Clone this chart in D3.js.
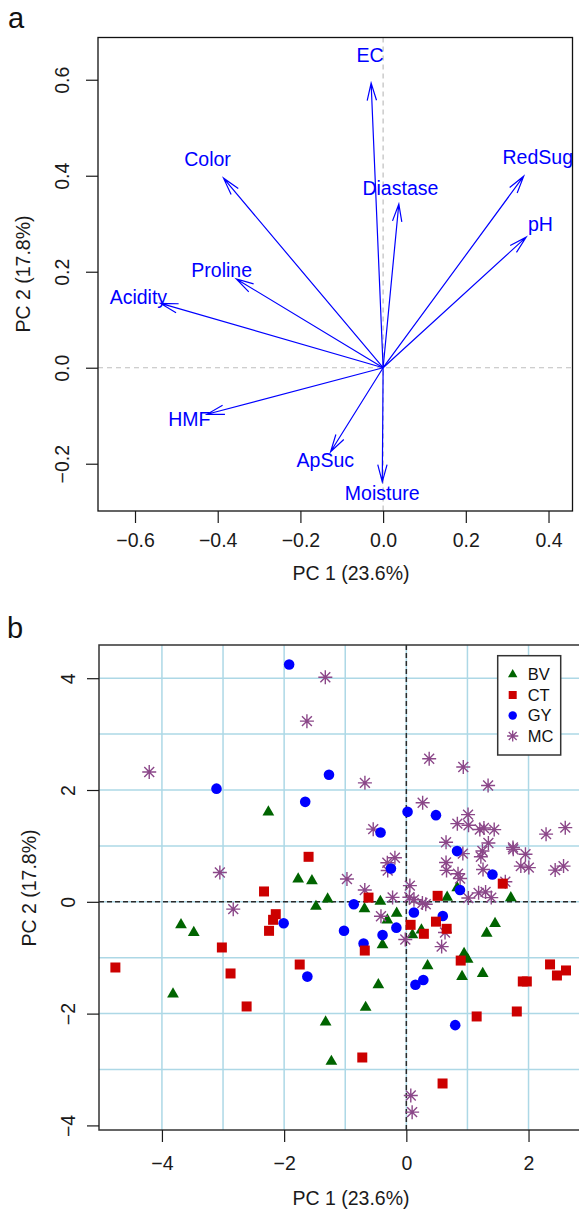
<!DOCTYPE html>
<html>
<head>
<meta charset="utf-8">
<script src="https://cdn.jsdelivr.net/npm/d3@7"></script>
<style>
  body { margin: 0; background: #fff; }
  svg { display: block; font-family: "Liberation Sans", Arial, Helvetica, sans-serif; }
</style>
</head>
<body>
<div id="chart"></div>
<script>
// ---- panel a: variable loadings ----
const loadingNames = ["EC", "Color", "Diastase", "RedSug", "pH", "Proline", "Acidity", "HMF", "ApSuc", "Moisture"];
const loadingPC1 = [-0.029, -0.386, 0.038, 0.340, 0.346, -0.355, -0.538, -0.426, -0.127, -0.002];
const loadingPC2 = [0.593, 0.395, 0.341, 0.399, 0.272, 0.185, 0.134, -0.097, -0.175, -0.238];
const ticksA_x = [-0.6, -0.4, -0.2, 0, 0.2, 0.4];
const ticksA_y = [-0.2, 0, 0.2, 0.4, 0.6];

// ---- panel b: sample scores, one array per origin ----
const groupNames = ["BV", "CT", "GY", "MC"];
const bvScores = [[-2.258,1.607],[-1.77,0.405],[-1.545,0.375],[-3.688,-0.411],[-3.479,-0.549],[-3.819,-1.652],[-1.321,-2.153],[-1.227,-2.856],[-1.288,0.048],[-1.479,-0.083],[-0.425,0.006],[-0.685,-0.125],[0.668,0.08],[0.833,0.25],[1.71,0.07],[-0.31,-0.325],[-0.158,-0.205],[-0.39,-0.77],[0.1,-0.593],[0.247,-0.506],[1.452,-0.39],[1.315,-0.565],[0.945,-0.925],[1.003,-1.03],[0.348,-1.146],[0.912,-1.338],[1.25,-1.285],[-0.458,-1.485],[-0.666,-1.89]];
const ctScores = [[-1.6,0.805],[-2.329,0.185],[-2.137,-0.221],[-2.181,-0.322],[-2.247,-0.519],[-3.019,-0.817],[-4.762,-1.175],[-2.877,-1.282],[-1.745,-1.122],[-2.614,-1.872],[-0.619,0.075],[0.512,0.107],[1.578,0.325],[0.07,-0.412],[0.485,-0.355],[0.66,-0.483],[0.287,-0.572],[-0.68,-0.872],[0.89,-1.051],[1.151,-2.051],[1.808,-1.962],[1.906,-1.425],[1.972,-1.425],[2.352,-1.12],[2.465,-1.318],[2.613,-1.228],[-0.721,-2.785],[0.593,-3.25]];
const gyScores = [[-1.918,4.244],[-1.266,2.274],[-3.107,2.024],[-1.655,1.788],[-2.008,-0.383],[-1.62,-1.338],[0.02,1.609],[0.485,1.55],[-0.422,1.24],[0.83,0.907],[-0.252,0.597],[1.409,0.489],[0.878,0.21],[-0.86,-0.045],[0.124,-0.192],[0.597,-0.254],[-1.02,-0.517],[-0.163,-0.462],[-0.389,-0.593],[-0.7,-0.747],[0.149,-1.485],[0.278,-1.4],[0.8,-2.206]];
const mcScores = [[-1.326,4.018],[-1.627,3.232],[-4.208,2.321],[-3.052,0.524],[-2.833,-0.131],[0.073,-3.465],[0.095,-3.763],[-0.678,2.128],[0.374,2.56],[0.932,2.411],[1.338,2.08],[0.267,1.771],[-0.542,1.3],[1.01,1.56],[0.835,1.398],[1.018,1.37],[1.203,1.294],[1.27,1.32],[1.438,1.292],[2.287,1.21],[2.601,1.327],[0.65,1.066],[0.925,0.862],[1.343,1.052],[1.245,0.91],[1.22,0.805],[1.745,0.973],[1.75,0.94],[1.95,0.85],[1.874,0.639],[2.005,0.612],[2.436,0.567],[2.573,0.639],[-0.187,0.788],[-0.311,0.698],[-0.305,0.561],[0.65,0.703],[0.658,0.562],[0.846,0.503],[0.88,0.418],[1.255,0.577],[1.62,0.36],[-0.972,0.408],[0.058,0.29],[-0.68,0.21],[-0.225,0.079],[0.05,0.082],[0.125,0.038],[0.263,-0.022],[0.318,-0.043],[1.015,0.068],[1.183,0.16],[1.297,0.177],[1.39,0.075],[-0.415,-0.258],[-0.017,-0.675],[0.633,-0.548],[0.578,-0.801]];
const ticksB_x = [-4, -2, 0, 2];
const ticksB_y = [-4, -2, 0, 2, 4];
const gridB_x = [-4, -3, -2, -1, 0, 1, 2, 3];
const gridB_y = [-3, -2, -1, 0, 1, 2, 3, 4];

const fontSize = 19.5;
const svg = d3.select("#chart").append("svg").attr("width", 579).attr("height", 1212);

function styleAxis(g) {
  g.attr("font-size", fontSize).attr("font-family", null).attr("color", "#1a1a1a");
  g.select(".domain").remove();
  g.selectAll(".tick line").attr("stroke-width", 1.2);
}

function rotateYLabels(g, offset) {
  g.selectAll(".tick text")
    .attr("x", 0)
    .attr("dy", null)
    .attr("text-anchor", "middle")
    .attr("transform", `translate(${offset},0) rotate(-90)`);
}

function drawLoadings() {
  const x = d3.scaleLinear().domain([-0.6895, 0.458]).range([98, 572.5]);
  const y = d3.scaleLinear().domain([-0.2985, 0.688]).range([511, 37.5]);
  const g = svg.append("g");

  // dashed reference lines through the origin
  g.append("line")
    .attr("x1", x(0)).attr("x2", x(0)).attr("y1", 37.5).attr("y2", 511)
    .attr("stroke", "#bebebe").attr("stroke-width", 1.2).attr("stroke-dasharray", "5,4");
  g.append("line")
    .attr("x1", 98).attr("x2", 572.5).attr("y1", y(0)).attr("y2", y(0))
    .attr("stroke", "#bebebe").attr("stroke-width", 1.2).attr("stroke-dasharray", "5,4");

  const idx = d3.range(loadingNames.length);
  const headLen = 18, headAng = 15 * Math.PI / 180;

  g.selectAll(".arrow")
    .data(idx)
    .enter()
    .append("path")
    .attr("class", "arrow")
    .attr("fill", "none")
    .attr("stroke", "blue")
    .attr("stroke-width", 1.2)
    .attr("d", (i) => {
      const ox = x(0), oy = y(0);
      const tx = x(loadingPC1[i]), ty = y(loadingPC2[i]);
      const a = Math.atan2(oy - ty, ox - tx);
      const h1 = [tx + headLen * Math.cos(a + headAng), ty + headLen * Math.sin(a + headAng)];
      const h2 = [tx + headLen * Math.cos(a - headAng), ty + headLen * Math.sin(a - headAng)];
      return `M${ox},${oy}L${tx},${ty}M${h1[0]},${h1[1]}L${tx},${ty}L${h2[0]},${h2[1]}`;
    });

  // labels sit a little beyond each arrow tip
  g.selectAll(".vlabel")
    .data(idx)
    .enter()
    .append("text")
    .attr("class", "vlabel")
    .attr("x", (i) => x(loadingPC1[i] * 1.1))
    .attr("y", (i) => y(loadingPC2[i] * 1.1))
    .attr("dy", "0.36em")
    .attr("text-anchor", "middle")
    .attr("font-size", fontSize)
    .attr("fill", "blue")
    .text((i) => loadingNames[i]);

  g.append("rect")
    .attr("x", 98).attr("y", 37.5).attr("width", 474.5).attr("height", 473.5)
    .attr("fill", "none").attr("stroke", "#111").attr("stroke-width", 1.3);

  const fmt = (d) => d3.format(".1f")(d);
  const xa = g.append("g").attr("transform", "translate(0,511)")
    .call(d3.axisBottom(x).tickValues(ticksA_x).tickFormat(fmt).tickSize(12).tickSizeOuter(0).tickPadding(10));
  styleAxis(xa);
  const ya = g.append("g").attr("transform", "translate(98,0)")
    .call(d3.axisLeft(y).tickValues(ticksA_y).tickFormat(fmt).tickSize(12).tickSizeOuter(0));
  styleAxis(ya);
  rotateYLabels(ya, -29);

  g.append("text").attr("x", 351).attr("y", 580).attr("text-anchor", "middle")
    .attr("font-size", fontSize).attr("fill", "#1a1a1a").text("PC 1 (23.6%)");
  g.append("text").attr("transform", "translate(30,274) rotate(-90)").attr("text-anchor", "middle")
    .attr("font-size", fontSize).attr("fill", "#1a1a1a").text("PC 2 (17.8%)");
  g.append("text").attr("x", 8).attr("y", 28).attr("font-size", 29).attr("fill", "#111").text("a");
}

function asterisk(r) {
  const d = r / Math.SQRT2;
  return `M${-r},0H${r}M0,${-r}V${r}M${-d},${-d}L${d},${d}M${-d},${d}L${d},${-d}`;
}

const groupStyle = {
  BV: { color: "#006400", shape: (k) => d3.symbol(d3.symbolTriangle, 60 * k * k)() },
  CT: { color: "#cc0000", shape: (k) => d3.symbol(d3.symbolSquare, 100 * k * k)() },
  GY: { color: "#0000ff", shape: (k) => d3.symbol(d3.symbolCircle, 88 * k * k)() },
  MC: { color: "#8b4789", shape: (k) => asterisk(7 * k), stroke: true },
};

function drawScores() {
  const left = 99, top = 645, bottom = 1130;
  const x = d3.scaleLinear().domain([-5.03, 2.9]).range([left, left + 7.93 * 61.1]);
  const y = d3.scaleLinear().domain([-4.082, 4.594]).range([bottom, top]);
  const right = x.range()[1];
  const g = svg.append("g");

  // light blue grid
  g.selectAll(".vgrid").data(gridB_x).enter().append("line")
    .attr("x1", (d) => x(d)).attr("x2", (d) => x(d)).attr("y1", top).attr("y2", bottom)
    .attr("stroke", "#add8e6").attr("stroke-width", 1.5);
  g.selectAll(".hgrid").data(gridB_y).enter().append("line")
    .attr("x1", left).attr("x2", right).attr("y1", (d) => y(d)).attr("y2", (d) => y(d))
    .attr("stroke", "#add8e6").attr("stroke-width", 1.5);

  g.append("line").attr("x1", x(0)).attr("x2", x(0)).attr("y1", top).attr("y2", bottom)
    .attr("stroke", "#2b2b2b").attr("stroke-width", 1.5).attr("stroke-dasharray", "5,3");
  g.append("line").attr("x1", left).attr("x2", right).attr("y1", y(0)).attr("y2", y(0))
    .attr("stroke", "#2b2b2b").attr("stroke-width", 1.5).attr("stroke-dasharray", "5,3");

  const series = { BV: bvScores, CT: ctScores, GY: gyScores, MC: mcScores };
  // drawing order chosen so overlaps look like the original
  ["BV", "MC", "GY", "CT"].forEach((name) => {
    const st = groupStyle[name];
    g.selectAll(".pt-" + name)
      .data(series[name])
      .enter()
      .append("path")
      .attr("class", "pt-" + name)
      .attr("transform", (d) => `translate(${x(d[0])},${y(d[1])})`)
      .attr("d", st.shape(1))
      .attr("fill", st.stroke ? "none" : st.color)
      .attr("stroke", st.stroke ? st.color : "none")
      .attr("stroke-width", 1.4);
  });

  g.append("rect")
    .attr("x", left).attr("y", top).attr("width", right - left).attr("height", bottom - top)
    .attr("fill", "none").attr("stroke", "#333").attr("stroke-width", 1.5);

  const xa = g.append("g").attr("transform", `translate(0,${bottom})`)
    .call(d3.axisBottom(x).tickValues(ticksB_x).tickFormat(d3.format("d")).tickSize(12).tickSizeOuter(0).tickPadding(14));
  styleAxis(xa);
  const ya = g.append("g").attr("transform", `translate(${left},0)`)
    .call(d3.axisLeft(y).tickValues(ticksB_y).tickFormat(d3.format("d")).tickSize(12).tickSizeOuter(0));
  styleAxis(ya);
  rotateYLabels(ya, -24);

  g.append("text").attr("x", 351).attr("y", 1205).attr("text-anchor", "middle")
    .attr("font-size", fontSize).attr("fill", "#1a1a1a").text("PC 1 (23.6%)");
  g.append("text").attr("transform", "translate(36,888) rotate(-90)").attr("text-anchor", "middle")
    .attr("font-size", fontSize).attr("fill", "#1a1a1a").text("PC 2 (17.8%)");
  g.append("text").attr("x", 7).attr("y", 638).attr("font-size", 29).attr("fill", "#111").text("b");

  // legend
  const lg = g.append("g");
  lg.append("rect").attr("x", 497.7).attr("y", 655.7).attr("width", 63).attr("height", 99.3)
    .attr("fill", "#fff").attr("stroke", "#333").attr("stroke-width", 1.5);
  const rows = lg.selectAll(".row").data(groupNames).enter().append("g")
    .attr("transform", (d, i) => `translate(512.7,${674.5 + i * 20.5})`);
  rows.append("path")
    .attr("d", (d) => groupStyle[d].shape(0.8))
    .attr("fill", (d) => groupStyle[d].stroke ? "none" : groupStyle[d].color)
    .attr("stroke", (d) => groupStyle[d].stroke ? groupStyle[d].color : "none")
    .attr("stroke-width", 1.3);
  rows.append("text").attr("x", 15).attr("dy", "0.36em").attr("font-size", 16.5)
    .attr("fill", "#111").text((d) => d);
}

drawLoadings();
drawScores();
</script>
</body>
</html>
